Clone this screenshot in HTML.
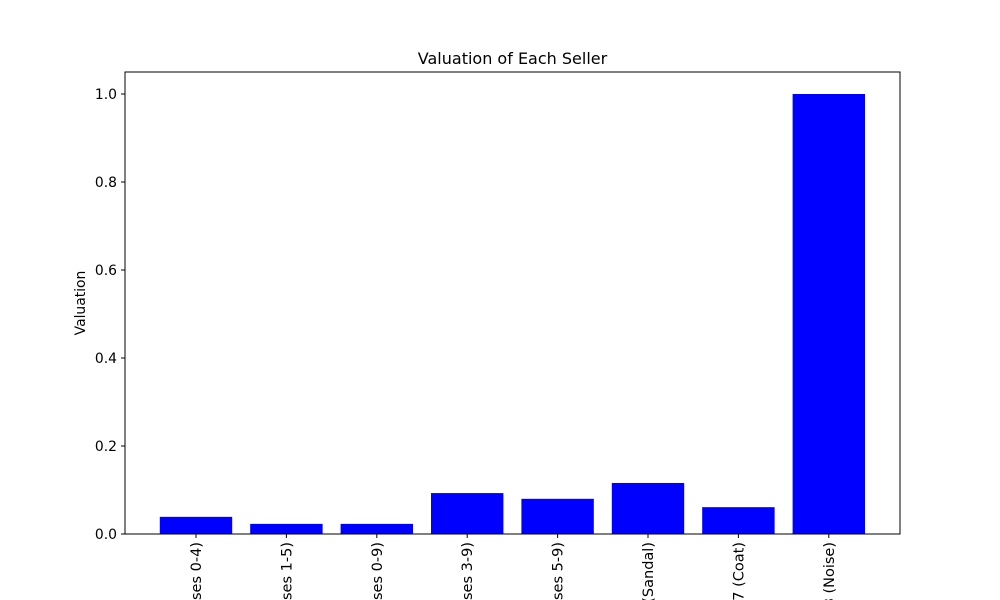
<!DOCTYPE html>
<html><head><meta charset="utf-8"><style>html,body{margin:0;background:#fff;width:1000px;height:600px;overflow:hidden}svg{display:block;font-family:"DejaVu Sans","Liberation Sans",sans-serif}</style></head>
<body>
<svg id="chart" width="1000" height="600" style="overflow:hidden">
<rect width="1000" height="600" fill="#fff"/>
<text x="512.5" y="64" text-anchor="middle" font-size="16">Valuation of Each Seller</text>
<text transform="translate(85,303) rotate(-90)" text-anchor="middle" font-size="13.9">Valuation</text>
<g id="bars"></g><g id="yticks"></g><g id="xticks"></g>
<rect x="125" y="72" width="775" height="462" fill="none" stroke="#000" stroke-width="1"/>
</svg>
<script>
const categories = ["Seller 1 (Classes 0-4)","Seller 2 (Classes 1-5)","Seller 3 (Classes 0-9)","Seller 4 (Classes 3-9)","Seller 5 (Classes 5-9)","Seller 6 (Sandal)","Seller 7 (Coat)","Seller 8 (Noise)"];
const values = [0.039,0.023,0.023,0.093,0.080,0.116,0.061,1.0];
const yTickValues = [0,0.2,0.4,0.6,0.8,1.0];
const yTickLabels = ["0.0","0.2","0.4","0.6","0.8","1.0"];
const NS="http://www.w3.org/2000/svg";
function y(v){return 534-v*440;}
function xc(i){return 196+i*90.4;}
const bars=document.getElementById('bars'),yt=document.getElementById('yticks'),xt=document.getElementById('xticks');
function mk(tag,attrs,parent){const e=document.createElementNS(NS,tag);for(const k in attrs)e.setAttribute(k,attrs[k]);parent.appendChild(e);return e;}
values.forEach((v,i)=>{
  const r=mk('rect',{x:xc(i)-36.2,y:y(v),width:72.4,height:534-y(v),fill:'#0000ff'},bars);
  
  
  const t=mk('line',{x1:xc(i),x2:xc(i),y1:534,y2:538,stroke:'#000'},xt);
  
  
  const l=mk('text',{transform:`translate(${xc(i)+5},542) rotate(-90)`,'text-anchor':'end','font-size':'14.5'},xt);
  l.textContent=categories[i];
  
  
});
yTickValues.forEach((v,i)=>{
  const t=mk('line',{x1:121,x2:125,y1:y(v),y2:y(v),stroke:'#000'},yt);
  
  
  const l=mk('text',{x:117,y:y(v)+5,'text-anchor':'end','font-size':'13.9'},yt);
  l.textContent=yTickLabels[i];
  
  
});
</script>
</body></html>
